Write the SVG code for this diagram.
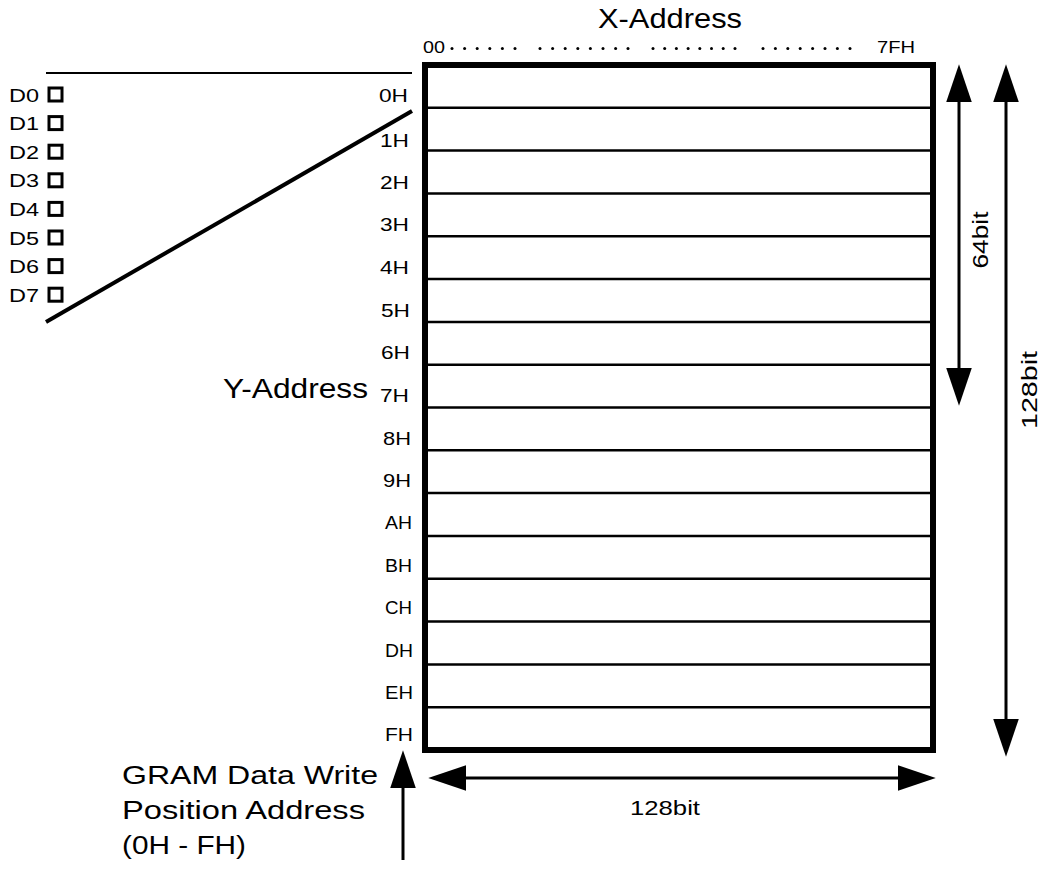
<svg xmlns="http://www.w3.org/2000/svg" width="1042" height="869" viewBox="0 0 1042 869">
<style>
text{font-family:"Liberation Sans",Arial,sans-serif;fill:#000}
.lbl{font-size:19px;text-anchor:end}
.d{font-size:18px}
.row{stroke:#000;stroke-width:2.5}
.ln{stroke:#000;fill:none}
.dot{fill:#000}
.box{fill:none;stroke:#000;stroke-width:3}
</style>
<defs>
<marker id="ah" markerUnits="userSpaceOnUse" markerWidth="40" markerHeight="30" viewBox="0 -12 36 24" refX="0" refY="0" orient="auto-start-reverse">
<path d="M0,-11.5 L34,0 L0,11.5 z" fill="#000"/>
</marker>
</defs>
<rect width="1042" height="869" fill="#fff"/>

<g id="x-address">
<text x="598" y="28" font-size="28" textLength="144" lengthAdjust="spacingAndGlyphs">X-Address</text>
<text x="423" y="53" font-size="17" textLength="22" lengthAdjust="spacingAndGlyphs">00</text>
<text x="877" y="53" font-size="17" textLength="38" lengthAdjust="spacingAndGlyphs">7FH</text>
<g class="dot">
<circle cx="452" cy="48.5" r="1.5"/><circle cx="464.6" cy="48.5" r="1.5"/><circle cx="477.2" cy="48.5" r="1.5"/><circle cx="489.8" cy="48.5" r="1.5"/><circle cx="502.4" cy="48.5" r="1.5"/><circle cx="515" cy="48.5" r="1.5"/>
<circle cx="540" cy="48.5" r="1.5"/><circle cx="552.6" cy="48.5" r="1.5"/><circle cx="565.2" cy="48.5" r="1.5"/><circle cx="577.8" cy="48.5" r="1.5"/><circle cx="590.4" cy="48.5" r="1.5"/><circle cx="603" cy="48.5" r="1.5"/><circle cx="615.6" cy="48.5" r="1.5"/><circle cx="628" cy="48.5" r="1.5"/>
<circle cx="653" cy="48.5" r="1.5"/><circle cx="664.7" cy="48.5" r="1.5"/><circle cx="676.4" cy="48.5" r="1.5"/><circle cx="688.1" cy="48.5" r="1.5"/><circle cx="699.8" cy="48.5" r="1.5"/><circle cx="711.5" cy="48.5" r="1.5"/><circle cx="723.2" cy="48.5" r="1.5"/><circle cx="735" cy="48.5" r="1.5"/>
<circle cx="763" cy="48.5" r="1.5"/><circle cx="775.4" cy="48.5" r="1.5"/><circle cx="787.8" cy="48.5" r="1.5"/><circle cx="800.2" cy="48.5" r="1.5"/><circle cx="812.6" cy="48.5" r="1.5"/><circle cx="825" cy="48.5" r="1.5"/><circle cx="837.4" cy="48.5" r="1.5"/><circle cx="850" cy="48.5" r="1.5"/>
</g>
</g>

<g id="data-bits">
<text class="d" x="9" y="101.5" textLength="30" lengthAdjust="spacingAndGlyphs">D0</text>
<text class="d" x="9" y="130.1" textLength="30" lengthAdjust="spacingAndGlyphs">D1</text>
<text class="d" x="9" y="158.7" textLength="30" lengthAdjust="spacingAndGlyphs">D2</text>
<text class="d" x="9" y="187.3" textLength="30" lengthAdjust="spacingAndGlyphs">D3</text>
<text class="d" x="9" y="215.9" textLength="30" lengthAdjust="spacingAndGlyphs">D4</text>
<text class="d" x="9" y="244.5" textLength="30" lengthAdjust="spacingAndGlyphs">D5</text>
<text class="d" x="9" y="273.1" textLength="30" lengthAdjust="spacingAndGlyphs">D6</text>
<text class="d" x="9" y="301.7" textLength="30" lengthAdjust="spacingAndGlyphs">D7</text>
<rect class="box" x="49" y="88" width="13" height="13"/>
<rect class="box" x="49" y="116.6" width="13" height="13"/>
<rect class="box" x="49" y="145.2" width="13" height="13"/>
<rect class="box" x="49" y="173.8" width="13" height="13"/>
<rect class="box" x="49" y="202.4" width="13" height="13"/>
<rect class="box" x="49" y="231" width="13" height="13"/>
<rect class="box" x="49" y="259.6" width="13" height="13"/>
<rect class="box" x="49" y="288.2" width="13" height="13"/>
</g>

<g id="gram">
<rect x="425" y="65" width="508" height="685" fill="none" stroke="#000" stroke-width="6"/>
<line class="row" x1="425" y1="107.8" x2="933" y2="107.8"/>
<line class="row" x1="425" y1="150.6" x2="933" y2="150.6"/>
<line class="row" x1="425" y1="193.4" x2="933" y2="193.4"/>
<line class="row" x1="425" y1="236.3" x2="933" y2="236.3"/>
<line class="row" x1="425" y1="279.1" x2="933" y2="279.1" stroke-width="3.5"/>
<line class="row" x1="425" y1="321.9" x2="933" y2="321.9"/>
<line class="row" x1="425" y1="364.7" x2="933" y2="364.7"/>
<line class="row" x1="425" y1="407.5" x2="933" y2="407.5" stroke-width="5"/>
<line class="row" x1="425" y1="450.3" x2="933" y2="450.3"/>
<line class="row" x1="425" y1="493.1" x2="933" y2="493.1"/>
<line class="row" x1="425" y1="535.9" x2="933" y2="535.9"/>
<line class="row" x1="425" y1="578.8" x2="933" y2="578.8"/>
<line class="row" x1="425" y1="621.6" x2="933" y2="621.6" stroke-width="3"/>
<line class="row" x1="425" y1="664.4" x2="933" y2="664.4"/>
<line class="row" x1="425" y1="707.2" x2="933" y2="707.2"/>
</g>

<g id="y-labels">
<text class="lbl" x="408" y="102" textLength="29" lengthAdjust="spacingAndGlyphs">0H</text>
<text class="lbl" x="409" y="147" textLength="29" lengthAdjust="spacingAndGlyphs">1H</text>
<text class="lbl" x="409" y="189" textLength="29" lengthAdjust="spacingAndGlyphs">2H</text>
<text class="lbl" x="409" y="231" textLength="29" lengthAdjust="spacingAndGlyphs">3H</text>
<text class="lbl" x="409" y="274" textLength="29" lengthAdjust="spacingAndGlyphs">4H</text>
<text class="lbl" x="410" y="317" textLength="29" lengthAdjust="spacingAndGlyphs">5H</text>
<text class="lbl" x="410" y="359" textLength="29" lengthAdjust="spacingAndGlyphs">6H</text>
<text class="lbl" x="409" y="402" textLength="29" lengthAdjust="spacingAndGlyphs">7H</text>
<text class="lbl" x="411" y="445" textLength="28" lengthAdjust="spacingAndGlyphs">8H</text>
<text class="lbl" x="411" y="487" textLength="28" lengthAdjust="spacingAndGlyphs">9H</text>
<text class="lbl" x="412" y="529" textLength="27" lengthAdjust="spacingAndGlyphs">AH</text>
<text class="lbl" x="412" y="572" textLength="27" lengthAdjust="spacingAndGlyphs">BH</text>
<text class="lbl" x="412" y="614" textLength="27" lengthAdjust="spacingAndGlyphs">CH</text>
<text class="lbl" x="413" y="657" textLength="28" lengthAdjust="spacingAndGlyphs">DH</text>
<text class="lbl" x="413" y="699" textLength="28" lengthAdjust="spacingAndGlyphs">EH</text>
<text class="lbl" x="413" y="741" textLength="28" lengthAdjust="spacingAndGlyphs">FH</text>
<text x="223" y="398" font-size="28" textLength="145" lengthAdjust="spacingAndGlyphs">Y-Address</text>
</g>

<g id="write-position">
<text x="122" y="784" font-size="26" textLength="256" lengthAdjust="spacingAndGlyphs">GRAM Data Write</text>
<text x="122" y="819" font-size="26" textLength="243" lengthAdjust="spacingAndGlyphs">Position Address</text>
<text x="122" y="854" font-size="26" textLength="124" lengthAdjust="spacingAndGlyphs">(0H - FH)</text>
</g>

<g id="dim-labels">
<text transform="translate(988,240) rotate(-90)" x="0" y="0" font-size="22" text-anchor="middle" textLength="57" lengthAdjust="spacingAndGlyphs">64bit</text>
<text transform="translate(1037,390) rotate(-90)" x="0" y="0" font-size="22" text-anchor="middle" textLength="78" lengthAdjust="spacingAndGlyphs">128bit</text>
<text x="665" y="815" font-size="21" text-anchor="middle" textLength="70" lengthAdjust="spacingAndGlyphs">128bit</text>
</g>

<g id="connectors">
<line class="ln" x1="46" y1="73" x2="412" y2="73" stroke-width="2.2"/>
<line class="ln" x1="46" y1="322" x2="412" y2="111" stroke-width="4"/>
<line class="ln" x1="959" y1="102" x2="959" y2="368" stroke-width="3" marker-start="url(#ah)" marker-end="url(#ah)"/>
<line class="ln" x1="1006" y1="102" x2="1006" y2="719" stroke-width="3" marker-start="url(#ah)" marker-end="url(#ah)"/>
<line class="ln" x1="466" y1="778" x2="898" y2="778" stroke-width="3" marker-start="url(#ah)" marker-end="url(#ah)"/>
<line class="ln" x1="403" y1="860" x2="403" y2="788" stroke-width="3" marker-end="url(#ah)"/>
</g>
</svg>
